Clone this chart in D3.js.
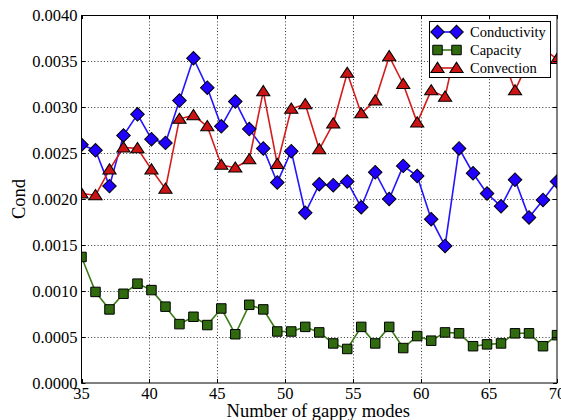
<!DOCTYPE html>
<html>
<head>
<meta charset="utf-8">
<script src="https://cdn.jsdelivr.net/npm/d3@7"></script>
<style>
  html, body { margin: 0; padding: 0; background: #fff; }
  svg { display: block; }
  text { font-family: "Liberation Serif", "Times New Roman", serif; fill: #000; }
</style>
</head>
<body>
<svg id="chart" width="561" height="420"></svg>
<script>
// Number of gappy modes (35 evenly spaced samples from 35 to 70)
const modes = [35.00, 36.03, 37.06, 38.09, 39.12, 40.15, 41.18, 42.21, 43.24, 44.26,
               45.29, 46.32, 47.35, 48.38, 49.41, 50.44, 51.47, 52.50, 53.53, 54.56,
               55.59, 56.62, 57.65, 58.68, 59.71, 60.74, 61.76, 62.79, 63.82, 64.85,
               65.88, 66.91, 67.94, 68.97, 70.00];

const conductivity = [0.00259, 0.00253, 0.00214, 0.00269, 0.00292, 0.00265, 0.00261, 0.00307, 0.00353, 0.00321,
                      0.00279, 0.00306, 0.00276, 0.00255, 0.00218, 0.00252, 0.00185, 0.00216, 0.00215, 0.00219,
                      0.00191, 0.00229, 0.00200, 0.00236, 0.00225, 0.00178, 0.00149, 0.00255, 0.00228, 0.00206,
                      0.00192, 0.00221, 0.00180, 0.00199, 0.00219];

const capacity = [0.00137, 0.00099, 0.00080, 0.00097, 0.00108, 0.00101, 0.00083, 0.00064, 0.00072, 0.00063,
                  0.00081, 0.00053, 0.00085, 0.00080, 0.00056, 0.00056, 0.00061, 0.00055, 0.00043, 0.00037,
                  0.00061, 0.00043, 0.00061, 0.00038, 0.00051, 0.00046, 0.00055, 0.00054, 0.00040, 0.00042,
                  0.00043, 0.00054, 0.00054, 0.00040, 0.00052];

const convection = [0.00206, 0.00204, 0.00232, 0.00256, 0.00255, 0.00232, 0.00211, 0.00287, 0.00291, 0.00279,
                    0.00237, 0.00234, 0.00243, 0.00317, 0.00238, 0.00298, 0.00303, 0.00254, 0.00282, 0.00337,
                    0.00293, 0.00307, 0.00355, 0.00325, 0.00283, 0.00318, 0.00311, 0.00380, 0.00362, 0.00372,
                    0.00359, 0.00318, 0.00351, 0.00364, 0.00352];

const xTicks = [35, 40, 45, 50, 55, 60, 65, 70];
const yTicks = [0, 0.0005, 0.0010, 0.0015, 0.0020, 0.0025, 0.0030, 0.0035, 0.0040];

const seriesList = [
  { name: "Conductivity", values: conductivity, line: "#2414ff", fill: "#2000ff", marker: "diamond" },
  { name: "Capacity",     values: capacity,     line: "#3d7a18", fill: "#2f6a0f", marker: "square" },
  { name: "Convection",   values: convection,   line: "#d41c1c", fill: "#cc1414", marker: "triangle" }
];

const plot = { left: 81.5, right: 557, top: 15, bottom: 383 };

const svg = d3.select("#chart");
const x = d3.scaleLinear().domain([35, 70]).range([plot.left, plot.right]);
const y = d3.scaleLinear().domain([0, 0.004]).range([plot.bottom, plot.top]);

// dotted grid
const grid = svg.append("g").attr("class", "grid");
grid.selectAll("line.gx").data(xTicks.slice(1, -1)).join("line")
  .attr("x1", d => Math.round(x(d)) + 0.5).attr("x2", d => Math.round(x(d)) + 0.5)
  .attr("y1", plot.top).attr("y2", plot.bottom)
  .attr("stroke", "#000").attr("stroke-width", 0.8).attr("stroke-dasharray", "1,2.2");
grid.selectAll("line.gy").data(yTicks.slice(1, -1)).join("line")
  .attr("y1", d => Math.round(y(d)) + 0.5).attr("y2", d => Math.round(y(d)) + 0.5)
  .attr("x1", plot.left).attr("x2", plot.right)
  .attr("stroke", "#000").attr("stroke-width", 0.8).attr("stroke-dasharray", "1,2.2");

// clip region for data
svg.append("defs").append("clipPath").attr("id", "plotClip")
  .append("rect")
  .attr("x", plot.left).attr("y", plot.top)
  .attr("width", plot.right - plot.left).attr("height", plot.bottom - plot.top);

const symbols = {
  diamond: d3.symbol().type(d3.symbolSquare).size(92),
  square: d3.symbol().type(d3.symbolSquare).size(90),
  triangle: d3.symbol().type(d3.symbolTriangle).size(60)
};

const dataLayer = svg.append("g").attr("clip-path", "url(#plotClip)");
const line = d3.line().x((d, i) => x(modes[i])).y(d => y(d));

seriesList.forEach(s => {
  dataLayer.append("path")
    .datum(s.values)
    .attr("d", line)
    .attr("fill", "none")
    .attr("stroke", s.line)
    .attr("stroke-width", 1.6)
    .attr("stroke-linejoin", "round");
});

function drawMarker(g, s, cx, cy) {
  const p = g.append("path")
    .attr("d", symbols[s.marker]())
    .attr("fill", s.fill)
    .attr("stroke", "#000")
    .attr("stroke-width", 1);
  let t = `translate(${cx},${cy})`;
  if (s.marker === "diamond") t += " rotate(45)";
  if (s.marker === "triangle") t += " translate(0,1) scale(1.12,1)";
  p.attr("transform", t);
}

seriesList.forEach(s => {
  const g = dataLayer.append("g");
  s.values.forEach((v, i) => drawMarker(g, s, x(modes[i]), y(v)));
});

// frame
svg.append("rect")
  .attr("x", plot.left).attr("y", plot.top + 0.5)
  .attr("width", plot.right - plot.left).attr("height", plot.bottom - plot.top - 0.5)
  .attr("fill", "none").attr("stroke", "#000").attr("stroke-width", 1);

// inward ticks on all four sides
const ticks = svg.append("g");
xTicks.forEach(t => {
  const px = Math.round(x(t)) + 0.5;
  ticks.append("line").attr("x1", px).attr("x2", px).attr("y1", plot.bottom).attr("y2", plot.bottom - 4).attr("stroke", "#000");
  ticks.append("line").attr("x1", px).attr("x2", px).attr("y1", plot.top).attr("y2", plot.top + 4).attr("stroke", "#000");
});
yTicks.forEach(t => {
  const py = Math.round(y(t)) + 0.5;
  ticks.append("line").attr("y1", py).attr("y2", py).attr("x1", plot.left).attr("x2", plot.left + 4).attr("stroke", "#000");
  ticks.append("line").attr("y1", py).attr("y2", py).attr("x1", plot.right).attr("x2", plot.right - 4).attr("stroke", "#000");
});

// tick labels
svg.append("g").selectAll("text").data(xTicks).join("text")
  .attr("x", d => x(d)).attr("y", plot.bottom + 15.5)
  .attr("text-anchor", "middle").attr("font-size", 16.5)
  .text(d => d);
svg.append("g").selectAll("text").data(yTicks).join("text")
  .attr("x", plot.left - 4).attr("y", d => y(d)).attr("dy", "0.34em")
  .attr("text-anchor", "end").attr("font-size", 16.5)
  .text(d => d.toFixed(4));

// axis titles
svg.append("text")
  .attr("x", (plot.left + plot.right) / 2 - 1).attr("y", 416.5)
  .attr("text-anchor", "middle").attr("font-size", 18.5)
  .text("Number of gappy modes");
svg.append("text")
  .attr("transform", `translate(25,${(plot.top + plot.bottom) / 2}) rotate(-90)`)
  .attr("text-anchor", "middle").attr("font-size", 18.5)
  .text("Cond");

// legend
const legend = svg.append("g");
legend.append("rect")
  .attr("x", 429.5).attr("y", 21.5).attr("width", 121).attr("height", 56)
  .attr("fill", "#fff").attr("stroke", "#000").attr("stroke-width", 1);
seriesList.forEach((s, i) => {
  const ly = 32 + i * 18;
  legend.append("line")
    .attr("x1", 437.5).attr("x2", 456.5).attr("y1", ly).attr("y2", ly)
    .attr("stroke", s.line).attr("stroke-width", 1.6);
  drawMarker(legend, s, 437.5, ly);
  drawMarker(legend, s, 456.5, ly);
  legend.append("text")
    .attr("x", 470).attr("y", ly).attr("dy", "0.34em")
    .attr("font-size", 14.5)
    .text(s.name);
});
</script>
</body>
</html>
